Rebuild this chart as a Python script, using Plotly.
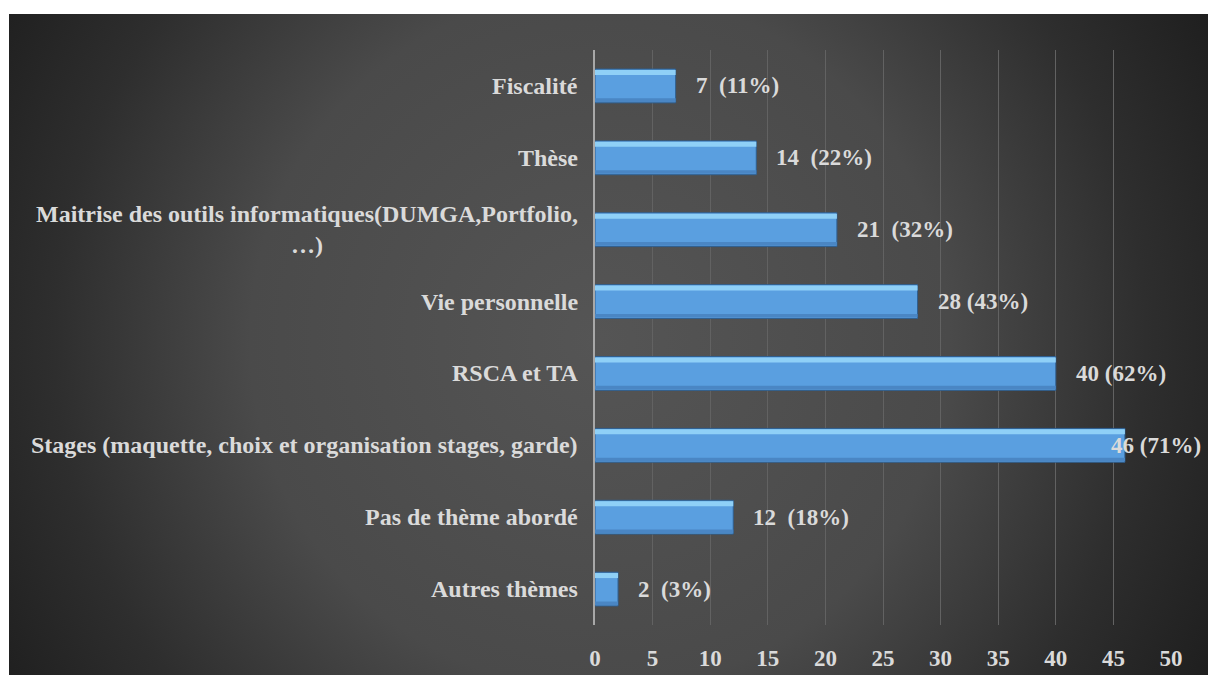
import base64
import plotly.graph_objects as go

categories = [
    "Fiscalité",
    "Thèse",
    "Maitrise des outils informatiques(DUMGA,Portfolio,<br>…)",
    "Vie personnelle",
    "RSCA et TA",
    "Stages (maquette, choix et organisation stages, garde)",
    "Pas de thème abordé",
    "Autres thèmes",
]
counts = [7, 14, 21, 28, 40, 46, 12, 2]
percents = [11, 22, 32, 43, 62, 71, 18, 3]
label_sep = ["  ", "  ", "  ", " ", " ", " ", "  ", "  "]
x_ticks = list(range(0, 55, 5))

W, H = 1208, 675
L, R, T, B = 595, 37, 50, 50
XMAX = 50
FONT = "Liberation Serif"
TXT = "#dadada"

# radial-gradient background panel as inline SVG
bx0, by0, bx1, by1 = 9, 14, 1208, 675
bw, bh = bx1 - bx0, by1 - by0
svg = f'''<svg xmlns="http://www.w3.org/2000/svg" width="{bw}" height="{bh}" viewBox="0 0 {bw} {bh}" preserveAspectRatio="none">
<defs><radialGradient id="g" gradientUnits="userSpaceOnUse" cx="{600-bx0}" cy="{340-by0}" r="700">
<stop offset="0" stop-color="#555555"/>
<stop offset="0.5" stop-color="#4a4a4a"/>
<stop offset="0.78" stop-color="#2e2e2e"/>
<stop offset="1" stop-color="#1e1e1e"/>
</radialGradient></defs>
<rect x="0" y="0" width="{bw}" height="{bh}" fill="url(#g)"/>
</svg>'''
src = "data:image/svg+xml;base64," + base64.b64encode(svg.encode()).decode()

pw = W - L - R
ph = H - T - B
img = dict(
    source=src, xref="paper", yref="paper",
    x=(bx0 - L) / pw, y=(H - B - by0) / ph,
    sizex=bw / pw, sizey=bh / ph,
    xanchor="left", yanchor="top", sizing="stretch", layer="below",
)

BW = 0.47
fig = go.Figure()
fig.add_trace(go.Bar(
    y=categories, x=counts, orientation="h", width=BW,
    marker=dict(color="#5a9fe0", line=dict(color="#2f5f90", width=1)),
    hoverinfo="skip",
))
# top highlight of the bevel
fig.add_trace(go.Bar(
    y=categories, x=counts, orientation="h", width=0.07, offset=-BW / 2 + 0.012,
    marker=dict(color="#8fd0f7", line=dict(width=0)),
    hoverinfo="skip",
))
# bottom shade of the bevel
fig.add_trace(go.Bar(
    y=categories, x=counts, orientation="h", width=0.05, offset=BW / 2 - 0.062,
    marker=dict(color="#4a86c4", line=dict(width=0)),
    hoverinfo="skip",
))

annotations = []
for c in categories:
    annotations.append(dict(
        xref="paper", x=0, yref="y", y=c, xanchor="right", xshift=-15,
        text=c, showarrow=False, align="center",
        font=dict(family=FONT, size=24, color=TXT, weight=700),
    ))

px_per = pw / XMAX
for c, v, p, s in zip(categories, counts, percents, label_sep):
    txt = f"{v}{s.replace('  ', ' ' + chr(160))}({p}%)"
    est_w = 11.6 * len(txt) + 2
    xs = 18
    end = v * px_per + xs + est_w
    if end > pw + R - 4:
        xs = (pw + R - 4) - est_w - v * px_per
    annotations.append(dict(
        xref="x", x=v, yref="y", y=c, xanchor="left", xshift=xs,
        text=txt, showarrow=False,
        font=dict(family=FONT, size=23, color=TXT, weight=700),
    ))

fig.update_layout(
    width=W, height=H,
    margin=dict(l=L, r=R, t=T, b=B, autoexpand=False),
    paper_bgcolor="white", plot_bgcolor="rgba(0,0,0,0)",
    barmode="overlay", showlegend=False,
    images=[img],
    annotations=annotations,
    xaxis=dict(
        range=[0, XMAX], tickvals=x_ticks, showgrid=True,
        gridcolor="#626262", gridwidth=1, zeroline=False, showline=False,
        ticks="", ticklabelstandoff=17, automargin=False,
        tickfont=dict(family=FONT, size=23, color=TXT, weight=700),
    ),
    yaxis=dict(
        categoryorder="array", categoryarray=categories, autorange="reversed",
        showticklabels=False, showgrid=False, zeroline=False, automargin=False,
        showline=True, linecolor="#a8a8a8", linewidth=2,
    ),
)

fig.write_html(
    "out.html",
    config={"displayModeBar": False},
    post_script="document.body.style.margin='0';document.body.style.overflow='hidden';",
)
